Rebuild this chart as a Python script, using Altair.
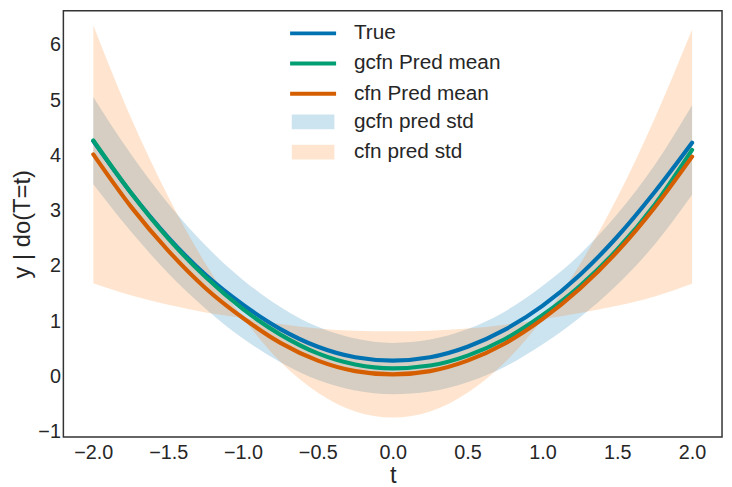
import altair as alt
import pandas as pd

# ---- values ----
t_vals = [-2.0, -1.75, -1.5, -1.25, -1.0, -0.75, -0.5, -0.25, 0.0,
          0.25, 0.5, 0.75, 1.0, 1.25, 1.5, 1.75, 2.0]

true_y = [4.26, 3.33, 2.52, 1.84, 1.30, 0.86, 0.54, 0.35, 0.29,
          0.35, 0.54, 0.85, 1.28, 1.84, 2.53, 3.34, 4.23]

gcfn_mean = [4.27, 3.33, 2.50, 1.80, 1.22, 0.76, 0.42, 0.22, 0.15,
             0.20, 0.38, 0.68, 1.11, 1.64, 2.30, 3.11, 4.10]

cfn_mean = [4.02, 3.08, 2.28, 1.60, 1.06, 0.61, 0.29, 0.10, 0.04,
            0.10, 0.29, 0.60, 1.04, 1.59, 2.26, 3.06, 3.98]

gcfn_upper = [5.06, 4.03, 3.13, 2.37, 1.75, 1.26, 0.90, 0.69, 0.61,
              0.67, 0.86, 1.18, 1.64, 2.21, 2.94, 3.83, 4.91]
gcfn_lower = [3.48, 2.63, 1.87, 1.23, 0.69, 0.26, -0.06, -0.25, -0.32,
              -0.27, -0.10, 0.18, 0.58, 1.07, 1.66, 2.39, 3.29]

cfn_edge_a = [6.35, 4.69, 3.26, 2.04, 1.06, 0.27, -0.29, -0.63, -0.74,
              -0.63, -0.29, 0.26, 1.04, 2.03, 3.24, 4.67, 6.28]
cfn_edge_b = [1.69, 1.47, 1.30, 1.16, 1.06, 0.95, 0.87, 0.83, 0.82,
              0.83, 0.87, 0.94, 1.04, 1.15, 1.28, 1.45, 1.68]

line_names = ["True", "gcfn Pred mean", "cfn Pred mean"]
line_colors = ["#0072B2", "#009E73", "#D55E00"]
band_names = ["gcfn pred std", "cfn pred std"]
band_colors = ["rgba(0,114,178,0.2)", "rgba(255,127,14,0.2)"]

x_ticks = [-2.0, -1.5, -1.0, -0.5, 0.0, 0.5, 1.0, 1.5, 2.0]
y_ticks = [-1, 0, 1, 2, 3, 4, 5, 6]

FONT = "Liberation Sans"
TXT = "#262626"

# ---- tables ----
def line_df(name, vals):
    return pd.DataFrame({"t": t_vals, "y": vals, "series": name})

def band_df(name, a, b):
    return pd.DataFrame({"t": t_vals, "lo": a, "hi": b, "band": name})

x_enc = alt.X("t:Q",
              scale=alt.Scale(domain=[-2.2, 2.2], nice=False, zero=False),
              axis=alt.Axis(values=x_ticks, format=".1f", title="t",
                            labelFontSize=20, titleFontSize=24,
                            ticks=False, domain=False, grid=False,
                            labelPadding=6, titlePadding=1, labelFlush=False,
                            labelColor=TXT, titleColor=TXT,
                            titleFontWeight="normal"))
y_scale = alt.Scale(domain=[-1.09, 6.62], nice=False, zero=False)
y_axis = alt.Axis(values=y_ticks, format="d", title="y | do(T=t)",
                  labelFontSize=20, titleFontSize=24,
                  ticks=False, domain=False, grid=False,
                  labelPadding=3, titlePadding=3, labelFlush=False,
                  labelColor=TXT, titleColor=TXT, titleFontWeight="normal")

line_legend = alt.Legend(title=None, orient="none", legendX=242, legendY=12.5,
                         symbolType="M-3.1,0H3.1", symbolSize=225,
                         symbolStrokeWidth=4, labelFontSize=21, labelOffset=30.8,
                         rowPadding=8.5, padding=0, labelFont=FONT,
                         labelColor=TXT)
band_legend = alt.Legend(title=None, orient="none", legendX=242, legendY=102,
                         symbolType="M-2.87,-1H2.87V1H-2.87Z", symbolSize=225,
                         symbolStrokeWidth=0, labelFontSize=21, labelOffset=30.8,
                         rowPadding=8.5, padding=0, labelFont=FONT,
                         labelColor=TXT, symbolOpacity=1)

color_enc = alt.Color("series:N",
                      scale=alt.Scale(domain=line_names, range=line_colors),
                      legend=line_legend)
fill_enc = alt.Fill("band:N",
                    scale=alt.Scale(domain=band_names, range=band_colors),
                    legend=band_legend)

layers = []
for name, a, b in [(band_names[0], gcfn_lower, gcfn_upper),
                   (band_names[1], cfn_edge_b, cfn_edge_a)]:
    layers.append(
        alt.Chart(band_df(name, a, b)).mark_area(interpolate="monotone").encode(
            x=x_enc,
            y=alt.Y("lo:Q", scale=y_scale, axis=y_axis),
            y2="hi:Q",
            fill=fill_enc,
        )
    )

for name, vals in zip(line_names, [true_y, gcfn_mean, cfn_mean]):
    layers.append(
        alt.Chart(line_df(name, vals)).mark_line(
            interpolate="monotone", strokeWidth=4.2, strokeCap="round"
        ).encode(
            x=x_enc,
            y=alt.Y("y:Q", scale=y_scale, axis=y_axis),
            color=color_enc,
        )
    )

chart = alt.layer(*layers).properties(
    width=666,
    height=431,
    padding={"left": 56, "top": 0, "right": 2, "bottom": 48},
    autosize=alt.AutoSizeParams(type="none"),
).configure(font=FONT).configure_view(
    stroke="#333333", strokeWidth=1.5
).configure_axis(labelFont=FONT, titleFont=FONT)

chart.save("out.html", embed_options={"renderer": "svg", "actions": False})
